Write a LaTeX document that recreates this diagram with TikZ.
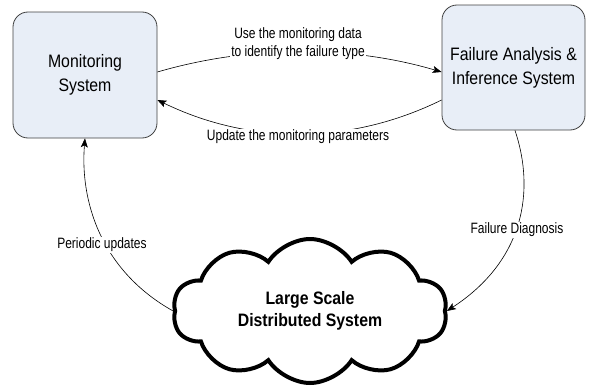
\documentclass[tikz,border=0pt]{standalone}
\usepackage{fontspec}
\setmainfont{Liberation Sans}[FakeStretch=0.88]
\usetikzlibrary{shapes.symbols,arrows.meta}
\definecolor{boxfill}{HTML}{E8EEF7}
\definecolor{boxdraw}{HTML}{404040}
\begin{document}
\begin{tikzpicture}[x=1pt,y=-1pt,
  sysbox/.style={draw=boxdraw,fill=boxfill,rounded corners=15pt,line width=0.8pt,
    align=center,font=\fontsize{18}{24}\selectfont,inner sep=0pt},
  conn/.style={line width=0.6pt,-{Stealth[length=9pt,width=7pt,inset=2pt]}},
  lbl/.style={fill=white,inner sep=1pt,align=center,font=\fontsize{15}{18}\selectfont\addfontfeature{FakeStretch=0.8}}]
\useasboundingbox (0,0) rectangle (589,388);
\node[sysbox,minimum width=144pt,minimum height=126pt] (mon) at (85,75) {Monitoring\\System};
\node[sysbox,minimum width=143pt,minimum height=125pt] (fail) at (513.5,67.5) {Failure Analysis \&\\Inference System};
\node[cloud,draw,line width=4pt,cloud puffs=10,cloud puff arc=115,aspect=1.9,
  minimum width=274pt,minimum height=144pt,inner sep=0pt,
  align=center,font=\bfseries\fontsize{18}{22}\selectfont] (cloud) at (310,311)
  {Large Scale\\Distributed System};
\coordinate (monA) at ([yshift=3pt]mon.east);
\coordinate (monB) at ([yshift=-25pt]mon.east);
\coordinate (failA) at ([yshift=-4.5pt]fail.west);
\coordinate (failB) at ([yshift=-32.5pt]fail.west);
\coordinate (failS) at ([xshift=1.5pt]fail.south);
\draw[conn] (monA) .. controls (250,45) and (350,45) .. (failA);
\draw[conn] (failB) .. controls (350,145) and (250,145) .. (monB);
\draw[conn] (cloud.west) .. controls (100,270) and (80,200) .. (mon.south);
\draw[conn] (failS) .. controls (535,190) and (525,260) .. (cloud.east);
\node[lbl] (l1) at (298,44) {Use the monitoring data\\to identify the failure type};
\node[lbl] (l2) at (298,137) {Update the monitoring parameters};
\node[lbl] (l3) at (102,245) {Periodic updates};
\node[lbl] (l4) at (517,230) {Failure Diagnosis};
\end{tikzpicture}
\end{document}
